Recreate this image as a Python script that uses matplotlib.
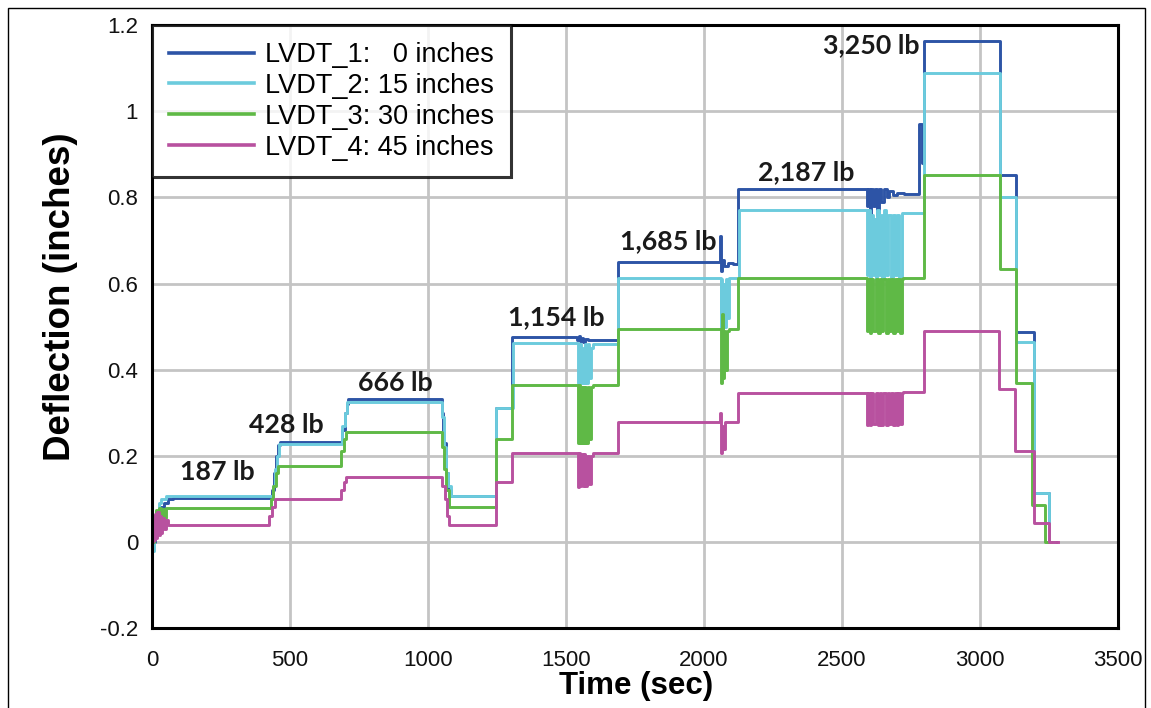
import matplotlib
matplotlib.use("Agg")
import matplotlib.pyplot as plt
from matplotlib.patches import Rectangle

plt.rcParams['font.family'] = ['Liberation Sans', 'DejaVu Sans']

# LVDT readings (time in sec, deflection in inches)
t1 = [0, 10, 20, 30, 45, 60, 75, 435, 442, 450, 457, 464, 690, 698, 705, 712,
      1050, 1056, 1064, 1072, 1085, 1245, 1305, 1540, 1546, 1551, 1557, 1563,
      1570, 1580, 1598, 1688, 2058, 2062, 2066, 2072, 2088, 2105, 2125, 2589,
      2594, 2600, 2605, 2611, 2618, 2626, 2634, 2643, 2652, 2662, 2672, 2685,
      2700, 2723, 2780, 2790, 2796, 3072, 3130, 3195, 3250, 3275]
d1 = [0.0, 0.03, 0.06, 0.08, 0.09, 0.10, 0.103, 0.12, 0.16, 0.20, 0.225, 0.232,
      0.26, 0.30, 0.32, 0.333, 0.30, 0.23, 0.16, 0.12, 0.107, 0.31, 0.477,
      0.468, 0.478, 0.466, 0.474, 0.465, 0.472, 0.468, 0.47, 0.649, 0.71, 0.63,
      0.655, 0.64, 0.648, 0.645, 0.819, 0.78, 0.82, 0.70, 0.82, 0.78, 0.82,
      0.76, 0.82, 0.79, 0.82, 0.80, 0.815, 0.805, 0.81, 0.807, 0.97, 0.88,
      1.163, 0.852, 0.487, 0.114, 0.0, 0.0]

t2 = [0, 8, 16, 24, 34, 50, 440, 447, 454, 461, 690, 700, 708, 1052, 1058,
      1066, 1074, 1085, 1245, 1307, 1543, 1546, 1549, 1552, 1556, 1560, 1564,
      1569, 1574, 1579, 1584, 1590, 1598, 1688, 2060, 2063, 2066, 2070, 2074,
      2079, 2085, 2090, 2128, 2589, 2595, 2600, 2606, 2611, 2617, 2622, 2628,
      2634, 2640, 2646, 2652, 2660, 2668, 2676, 2684, 2692, 2700, 2708, 2716,
      2796, 3072, 3130, 3195, 3250, 3270]
d2 = [-0.02, 0.04, 0.07, 0.09, 0.10, 0.107, 0.13, 0.17, 0.20, 0.228, 0.27,
      0.30, 0.326, 0.29, 0.22, 0.16, 0.13, 0.107, 0.31, 0.462, 0.37, 0.46,
      0.37, 0.46, 0.37, 0.45, 0.37, 0.46, 0.37, 0.46, 0.38, 0.45, 0.46, 0.614,
      0.50, 0.61, 0.49, 0.60, 0.50, 0.61, 0.52, 0.612, 0.772, 0.62, 0.77, 0.61,
      0.76, 0.62, 0.75, 0.61, 0.77, 0.62, 0.76, 0.61, 0.77, 0.62, 0.76, 0.61,
      0.76, 0.62, 0.76, 0.61, 0.765, 1.09, 0.80, 0.465, 0.114, 0.0, 0.0]

t3 = [0, 8, 14, 20, 26, 32, 38, 44, 52, 430, 440, 450, 458, 685, 695, 703,
      1050, 1058, 1066, 1075, 1245, 1305, 1543, 1547, 1550, 1554, 1557, 1561,
      1565, 1570, 1574, 1580, 1584, 1590, 1598, 1688, 2060, 2064, 2068, 2073,
      2078, 2084, 2090, 2124, 2589, 2595, 2601, 2607, 2613, 2625, 2631, 2637,
      2643, 2649, 2660, 2666, 2672, 2678, 2684, 2692, 2698, 2704, 2710, 2716,
      2722, 2796, 3072, 3130, 3190, 3235, 3258]
d3 = [0.0, 0.04, 0.075, 0.045, 0.078, 0.05, 0.077, 0.055, 0.078, 0.10, 0.13,
      0.16, 0.177, 0.21, 0.24, 0.256, 0.22, 0.17, 0.12, 0.081, 0.24, 0.365,
      0.23, 0.365, 0.23, 0.36, 0.23, 0.36, 0.23, 0.36, 0.23, 0.36, 0.24, 0.36,
      0.365, 0.495, 0.37, 0.53, 0.38, 0.49, 0.40, 0.49, 0.495, 0.614, 0.49,
      0.61, 0.486, 0.61, 0.49, 0.61, 0.486, 0.61, 0.49, 0.61, 0.486, 0.61,
      0.49, 0.61, 0.486, 0.61, 0.49, 0.61, 0.486, 0.61, 0.612, 0.853, 0.633,
      0.37, 0.086, 0.0, 0.0]

t4 = [0, 4, 8, 12, 16, 20, 24, 28, 33, 38, 44, 50, 58, 425, 435, 445, 685,
      695, 703, 1050, 1060, 1068, 1078, 1245, 1305, 1543, 1547, 1551, 1555,
      1560, 1565, 1570, 1576, 1582, 1590, 1598, 1688, 2058, 2062, 2066, 2070,
      2076, 2124, 2589, 2595, 2601, 2607, 2613, 2625, 2631, 2637, 2643, 2649,
      2660, 2666, 2672, 2678, 2684, 2692, 2698, 2704, 2710, 2716, 2722, 2796,
      3070, 3127, 3195, 3250, 3283]
d4 = [0.0, 0.06, 0.005, 0.065, 0.01, 0.07, 0.015, 0.06, 0.02, 0.055, 0.03,
      0.05, 0.039, 0.06, 0.08, 0.10, 0.12, 0.14, 0.151, 0.13, 0.10, 0.06,
      0.039, 0.14, 0.207, 0.128, 0.207, 0.13, 0.205, 0.13, 0.205, 0.13, 0.20,
      0.135, 0.20, 0.207, 0.279, 0.30, 0.207, 0.27, 0.215, 0.279, 0.347, 0.272,
      0.347, 0.272, 0.345, 0.275, 0.347, 0.272, 0.347, 0.272, 0.345, 0.272,
      0.347, 0.275, 0.347, 0.272, 0.345, 0.272, 0.347, 0.275, 0.347, 0.349,
      0.49, 0.355, 0.21, 0.044, 0.0, 0.0]

labels = ["LVDT_1:   0 inches", "LVDT_2: 15 inches",
          "LVDT_3: 30 inches", "LVDT_4: 45 inches"]
colors = ["#2d54a6", "#6ccbdd", "#5fb946", "#b8519f"]

loads = ["187 lb", "428 lb", "666 lb", "1,154 lb", "1,685 lb", "2,187 lb", "3,250 lb"]
load_t = [100, 352, 745, 1290, 1695, 2197, 2433]
load_y = [0.163, 0.272, 0.37, 0.521, 0.698, 0.858, 1.153]

xticks = [0, 500, 1000, 1500, 2000, 2500, 3000, 3500]
yticks = [-0.2, 0, 0.2, 0.4, 0.6, 0.8, 1.0, 1.2]
ytick_labels = ["-0.2", "0", "0.2", "0.4", "0.6", "0.8", "1", "1.2"]

fig = plt.figure(figsize=(11.51, 7.08), dpi=100)
ax = fig.add_axes([0.132, 0.113, 0.8393, 0.8513])

for t, d, lab, c in zip([t1, t2, t3, t4], [d1, d2, d3, d4], labels, colors):
    ax.plot(t, d, drawstyle='steps-post', color=c, lw=2.1, label=lab)

for txt, x, y in zip(loads, load_t, load_y):
    ax.text(x, y, txt, family=['Lato', 'DejaVu Sans'], fontweight='bold',
            fontsize=19.3, color='#1a1a1a', ha='left', va='center')

ax.set_xlim(0, 3500)
ax.set_ylim(-0.2, 1.2)
ax.set_xticks(xticks)
ax.set_xticklabels([str(v) for v in xticks])
ax.set_yticks(yticks)
ax.set_yticklabels(ytick_labels)
ax.tick_params(axis='both', length=0, labelsize=16, colors='#111111')
ax.tick_params(axis='x', pad=16)
ax.tick_params(axis='y', pad=10)
ax.grid(True, color='#c4c4c4', lw=2.0)
ax.set_axisbelow(True)
for s in ax.spines.values():
    s.set_linewidth(2.2)
    s.set_color('black')

ax.set_xlabel("Time (sec)", fontsize=22.5, fontweight='bold')
ax.set_ylabel("Deflection (inches)", fontsize=26.5, fontweight='bold')
ax.xaxis.set_label_coords(0.501, -0.072)
ax.yaxis.set_label_coords(-0.077, 0.549)

leg = ax.legend(loc='upper left', fontsize=19.5, frameon=True, fancybox=False,
                borderaxespad=0, handlelength=3.15, handletextpad=0.4,
                labelspacing=0.18, borderpad=0.62)
leg.get_frame().set_edgecolor('black')
leg.get_frame().set_linewidth(2.2)
for line in leg.get_lines():
    line.set_linewidth(2.6)

# thin frame around the whole picture
fig.patches.append(Rectangle((0.007, -0.01), 0.988, 0.9987, transform=fig.transFigure,
                             fill=False, edgecolor='black', lw=1.0))

fig.savefig("out.png", dpi=100)
